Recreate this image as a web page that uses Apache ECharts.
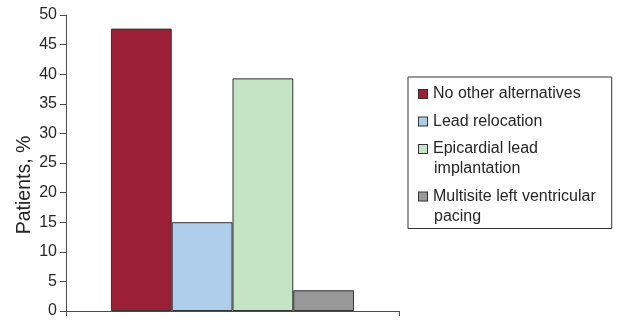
<!DOCTYPE html>
<html>
<head>
<meta charset="utf-8">
<script src="https://cdn.jsdelivr.net/npm/echarts@6/dist/echarts.min.js"></script>
<style>
  html, body { margin: 0; padding: 0; background: #ffffff; }
  #chart { width: 617px; height: 320px; }
</style>
</head>
<body>
<div id="chart"></div>
<script>
// Reasons for choosing the pacing strategy (share of patients, %)
const categories = ['Patients'];
const seriesNames = [
  'No other alternatives',
  'Lead relocation',
  'Epicardial lead\nimplantation',
  'Multisite left ventricular\npacing'
];
const seriesValues = [47.7, 15.0, 39.3, 3.5];
const seriesColors = ['#9b1f36', '#aecdeb', '#c5e3c5', '#999999'];
const yTicks = { min: 0, max: 50, interval: 5 };

const axisColor = '#4d4d4d';
const textColor = '#262626';
const edgeColor = '#333333';
const fontFamily = '"Liberation Sans", Arial, sans-serif';

const chart = echarts.init(document.getElementById('chart'), null, { renderer: 'canvas' });

const series = seriesNames.map((name, i) => ({
  name: name,
  type: 'bar',
  data: [seriesValues[i]],
  barGap: '0%',
  barCategoryGap: '27%',
  itemStyle: {
    color: seriesColors[i],
    borderColor: edgeColor,
    borderWidth: 1
  }
}));

// Legend swatches are drawn as rich-text boxes so that they sit on the
// first line of wrapped entries.
const legendRich = {
  t: { fontSize: 16, lineHeight: 20, color: textColor, fontFamily: fontFamily },
  gap: { width: 6, height: 9 },
  ind: { width: 15, height: 9 }
};
seriesColors.forEach((c, i) => {
  legendRich['sq' + i] = {
    width: 8,
    height: 8,
    backgroundColor: c,
    borderColor: edgeColor,
    borderWidth: 1
  };
});

function legendLabel(name) {
  const i = seriesNames.indexOf(name);
  return name.split('\n').map((line, k) =>
    k === 0 ? '{sq' + i + '|}{gap|}{t|' + line + '}' : '{ind|}{t|' + line + '}'
  ).join('\n');
}

chart.setOption({
  animation: false,
  backgroundColor: '#ffffff',
  textStyle: { fontFamily: fontFamily },
  grid: { left: 66, right: 218, top: 15, bottom: 9, containLabel: false },
  legend: {
    orient: 'vertical',
    left: 408,
    top: 77,
    data: seriesNames,
    itemWidth: 0,
    itemHeight: 16,
    itemGap: 7.5,
    itemStyle: { opacity: 0, borderWidth: 0 },
    padding: [7, 16, 2, 6],
    borderColor: edgeColor,
    borderWidth: 1,
    selectedMode: false,
    formatter: legendLabel,
    textStyle: {
      fontSize: 16,
      lineHeight: 20,
      color: textColor,
      fontFamily: fontFamily,
      rich: legendRich
    }
  },
  xAxis: {
    type: 'category',
    data: categories,
    axisLine: { lineStyle: { color: axisColor, width: 1 } },
    axisTick: { show: true, length: 5, lineStyle: { color: axisColor } },
    axisLabel: { show: false },
    splitLine: { show: false }
  },
  yAxis: {
    type: 'value',
    min: yTicks.min,
    max: yTicks.max,
    interval: yTicks.interval,
    name: 'Patients, %',
    nameLocation: 'middle',
    nameGap: 31,
    nameMoveOverlap: false,
    nameTextStyle: {
      fontSize: 19.5,
      color: textColor,
      fontFamily: fontFamily,
      padding: [0, 44, 0, 0]
    },
    axisLine: { show: true, lineStyle: { color: axisColor, width: 1 } },
    axisTick: { show: true, inside: false, length: 6, lineStyle: { color: axisColor } },
    axisLabel: { fontSize: 16, color: textColor, margin: 9, fontFamily: fontFamily },
    splitLine: { show: false }
  },
  series: series
});
</script>
</body>
</html>
